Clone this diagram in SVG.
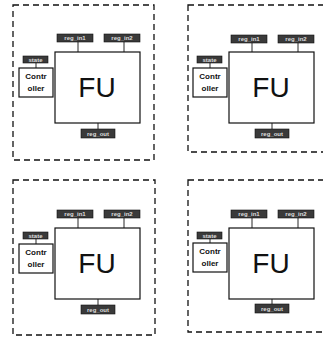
<svg xmlns="http://www.w3.org/2000/svg" width="323" height="339" viewBox="0 0 323 339">
<style>
.frame{fill:none;stroke:#111;stroke-width:1.3;stroke-dasharray:6 4}
.box{fill:#fff;stroke:#111;stroke-width:1.2}
.reg{fill:#3a3a3a;stroke:#111;stroke-width:0.6}
.rt{font-family:"Liberation Sans",Arial,sans-serif;font-size:6px;fill:#ddd;text-anchor:middle;font-weight:bold}
.fu{font-family:"Liberation Sans",Arial,sans-serif;font-size:28px;fill:#111;text-anchor:middle}
.ct{font-family:"Liberation Sans",Arial,sans-serif;font-size:8px;font-weight:bold;fill:#111;text-anchor:middle}
.wire{stroke:#111;stroke-width:0.9;fill:none}
</style>
<rect width="323" height="339" fill="#fff"/>
<defs>
<g id="tpl-wires">
<line class="wire" x1="78" y1="42" x2="78" y2="52"/>
<line class="wire" x1="124" y1="42" x2="124" y2="52"/>
<line class="wire" x1="98" y1="123" x2="98" y2="129"/>
<line class="wire" x1="36" y1="63" x2="36" y2="68"/>
</g>
</defs>
<g id="connectors">
<use href="#tpl-wires"/>
<use href="#tpl-wires" transform="translate(174,0)"/>
<use href="#tpl-wires" transform="translate(0,176)"/>
<use href="#tpl-wires" transform="translate(174,176)"/>
</g>
<g id="panel-tl">
<rect class="frame" x="13" y="5" width="141" height="155"/>
<g id="fu-tl"><rect class="box" x="55" y="52" width="85" height="71"/><text class="fu" x="97" y="97">FU</text></g>
<g id="regin1-tl"><rect class="reg" x="57" y="34" width="36" height="8"/><text class="rt" x="75" y="40.2">reg_in1</text></g>
<g id="regin2-tl"><rect class="reg" x="104" y="34" width="36" height="8"/><text class="rt" x="122" y="40.2">reg_in2</text></g>
<g id="regout-tl"><rect class="reg" x="81" y="129" width="34" height="9"/><text class="rt" x="98" y="135.7">reg_out</text></g>
<g id="ctrl-tl"><rect class="box" x="19" y="68" width="34" height="29"/><text class="ct" x="36" y="79">Contr</text><text class="ct" x="36" y="91">oller</text></g>
<g id="state-tl"><rect class="reg" x="23" y="56" width="25" height="7"/><text class="rt" x="35.5" y="61.5">state</text></g>
</g>
<g id="panel-tr" transform="translate(174,0)">
<rect class="frame" x="14" y="5" width="141" height="147"/>
<g id="fu-tr"><rect class="box" x="55" y="52" width="85" height="71"/><text class="fu" x="97" y="97">FU</text></g>
<g id="regin1-tr"><rect class="reg" x="57" y="35" width="36" height="8"/><text class="rt" x="75" y="41.2">reg_in1</text></g>
<g id="regin2-tr"><rect class="reg" x="104" y="35" width="36" height="8"/><text class="rt" x="122" y="41.2">reg_in2</text></g>
<g id="regout-tr"><rect class="reg" x="81" y="129" width="34" height="9"/><text class="rt" x="98" y="135.7">reg_out</text></g>
<g id="ctrl-tr"><rect class="box" x="19" y="68" width="34" height="29"/><text class="ct" x="36" y="79">Contr</text><text class="ct" x="36" y="91">oller</text></g>
<g id="state-tr"><rect class="reg" x="23" y="56" width="25" height="7"/><text class="rt" x="35.5" y="61.5">state</text></g>
</g>
<g id="panel-bl" transform="translate(0,176)">
<rect class="frame" x="13" y="4" width="142" height="155"/>
<g id="fu-bl"><rect class="box" x="55" y="52" width="85" height="71"/><text class="fu" x="97" y="97">FU</text></g>
<g id="regin1-bl"><rect class="reg" x="57" y="34" width="36" height="8"/><text class="rt" x="75" y="40.2">reg_in1</text></g>
<g id="regin2-bl"><rect class="reg" x="104" y="34" width="36" height="8"/><text class="rt" x="122" y="40.2">reg_in2</text></g>
<g id="regout-bl"><rect class="reg" x="81" y="129" width="34" height="9"/><text class="rt" x="98" y="135.7">reg_out</text></g>
<g id="ctrl-bl"><rect class="box" x="19" y="68" width="34" height="29"/><text class="ct" x="36" y="79">Contr</text><text class="ct" x="36" y="91">oller</text></g>
<g id="state-bl"><rect class="reg" x="23" y="56" width="25" height="7"/><text class="rt" x="35.5" y="61.5">state</text></g>
</g>
<g id="panel-br" transform="translate(174,176)">
<rect class="frame" x="14" y="4" width="141" height="152"/>
<g id="fu-br"><rect class="box" x="55" y="52" width="85" height="71"/><text class="fu" x="97" y="97">FU</text></g>
<g id="regin1-br"><rect class="reg" x="57" y="34" width="36" height="8"/><text class="rt" x="75" y="40.2">reg_in1</text></g>
<g id="regin2-br"><rect class="reg" x="104" y="34" width="36" height="8"/><text class="rt" x="122" y="40.2">reg_in2</text></g>
<g id="regout-br"><rect class="reg" x="81" y="128" width="34" height="9"/><text class="rt" x="98" y="134.7">reg_out</text></g>
<g id="ctrl-br"><rect class="box" x="19" y="67" width="34" height="29"/><text class="ct" x="36" y="78">Contr</text><text class="ct" x="36" y="90">oller</text></g>
<g id="state-br"><rect class="reg" x="23" y="56" width="25" height="7"/><text class="rt" x="35.5" y="61.5">state</text></g>
</g>
</svg>
